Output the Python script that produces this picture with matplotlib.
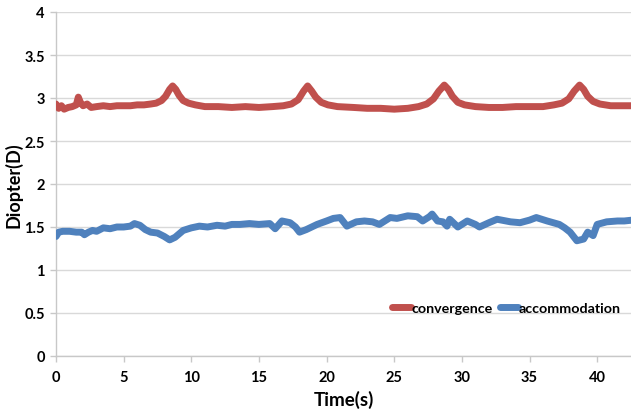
import matplotlib
matplotlib.use("Agg")
import matplotlib.pyplot as plt

# ---- data ----
conv_t = [0, 0.2, 0.4, 0.6, 0.9, 1.2, 1.5, 1.65, 1.8, 2.0, 2.3, 2.6, 3.0, 3.5, 4.0, 4.5,
          5.0, 5.5, 6.0, 6.5, 7.0, 7.4, 7.8, 8.1, 8.4, 8.62, 8.85, 9.1, 9.4, 9.8, 10.3,
          11, 12, 13, 14, 15, 16, 16.8, 17.4, 17.9, 18.3, 18.6, 18.9, 19.2, 19.6, 20.1,
          20.8, 22, 23, 24, 25, 26, 26.8, 27.4, 27.9, 28.3, 28.7, 29.0, 29.3, 29.7, 30.2,
          31, 32, 33, 34, 35, 36, 36.8, 37.4, 37.9, 38.3, 38.7, 39.0, 39.3, 39.7, 40.2,
          41, 42, 42.6]
conv_v = [2.93, 2.88, 2.91, 2.87, 2.89, 2.90, 2.92, 3.01, 2.95, 2.91, 2.93, 2.89, 2.90,
          2.91, 2.90, 2.91, 2.91, 2.91, 2.92, 2.92, 2.93, 2.94, 2.97, 3.02, 3.10, 3.14,
          3.10, 3.03, 2.97, 2.94, 2.92, 2.90, 2.90, 2.89, 2.90, 2.89, 2.90, 2.91, 2.93,
          2.98, 3.08, 3.14, 3.08, 3.01, 2.95, 2.92, 2.90, 2.89, 2.88, 2.88, 2.87, 2.88,
          2.90, 2.93, 2.99, 3.08, 3.15, 3.10, 3.02, 2.95, 2.92, 2.90, 2.89, 2.89, 2.90,
          2.90, 2.90, 2.92, 2.94, 2.99, 3.08, 3.15, 3.10, 3.02, 2.96, 2.93, 2.91, 2.91,
          2.91]

acc_t = [0, 0.2, 0.5, 1.0, 1.5, 1.9, 2.1, 2.4, 2.7, 3.0, 3.5, 4.0, 4.5, 5.0, 5.5, 5.8,
         6.2, 6.6, 7.0, 7.5, 8.0, 8.4, 8.8, 9.4, 10.0, 10.6, 11.2, 11.9, 12.5, 13.0,
         13.6, 14.3, 15.0, 15.8, 16.2, 16.7, 17.3, 17.7, 18.0, 18.5, 19.3, 20.0, 20.5,
         21.0, 21.5, 22.2, 22.8, 23.4, 23.9, 24.7, 25.2, 26.0, 26.7, 27.1, 27.6, 27.8,
         28.2, 28.6, 28.9, 29.1, 29.7, 30.4, 31.0, 31.3, 32.0, 32.6, 33.6, 34.3, 35.0,
         35.5, 36.3, 37.2, 37.6, 38.0, 38.5, 39.0, 39.3, 39.7, 40.0, 40.7, 41.5, 42.0,
         42.6]
acc_v = [1.39, 1.44, 1.45, 1.45, 1.44, 1.44, 1.41, 1.44, 1.46, 1.45, 1.49, 1.48, 1.50,
         1.50, 1.51, 1.54, 1.52, 1.47, 1.44, 1.43, 1.39, 1.35, 1.38, 1.46, 1.49, 1.51,
         1.50, 1.52, 1.51, 1.53, 1.53, 1.54, 1.53, 1.54, 1.48, 1.57, 1.55, 1.50, 1.44,
         1.47, 1.53, 1.57, 1.60, 1.61, 1.51, 1.56, 1.57, 1.56, 1.53, 1.61, 1.60, 1.63,
         1.62, 1.57, 1.62, 1.65, 1.57, 1.56, 1.51, 1.59, 1.50, 1.57, 1.53, 1.50, 1.55,
         1.59, 1.56, 1.55, 1.58, 1.61, 1.57, 1.53, 1.49, 1.44, 1.34, 1.36, 1.44, 1.40,
         1.53, 1.56, 1.57, 1.57, 1.58]

series_names = ["convergence", "accommodation"]
x_ticks = [0, 5, 10, 15, 20, 25, 30, 35, 40]
y_ticks = [0, 0.5, 1, 1.5, 2, 2.5, 3, 3.5, 4]
y_tick_labels = ["0", "0.5", "1", "1.5", "2", "2.5", "3", "3.5", "4"]

# ---- drawing ----
plt.rcParams['font.family'] = ['Lato', 'DejaVu Sans']
fig = plt.figure(figsize=(6.31, 4.10), dpi=100)
ax = fig.add_axes([56 / 631, 1 - 357 / 410, 1 - 56 / 631, (357 - 13) / 410])

red = "#C0504D"
blue = "#4F81BD"
ax.plot(conv_t, conv_v, color=red, lw=5.0, solid_capstyle="round",
        solid_joinstyle="round", label=series_names[0], zorder=3)
ax.plot(acc_t, acc_v, color=blue, lw=5.0, solid_capstyle="round",
        solid_joinstyle="round", label=series_names[1], zorder=3)

ax.set_xlim(0, 42.5)
ax.set_ylim(0, 4)
ax.set_xticks(x_ticks)
ax.set_yticks(y_ticks)
ax.set_yticklabels(y_tick_labels)
ax.yaxis.grid(True, color="#d9d9d9", lw=1.0)
ax.set_axisbelow(True)
for s in ["top", "right"]:
    ax.spines[s].set_visible(False)
for s in ["left", "bottom"]:
    ax.spines[s].set_color("#c8c8c8")
    ax.spines[s].set_linewidth(1.0)
ax.tick_params(axis="both", colors="#c8c8c8", length=4, width=1,
               labelcolor="black", labelsize=10.5)
ax.tick_params(axis="x", pad=6)
ax.tick_params(axis="y", pad=4)
for lab in ax.get_xticklabels() + ax.get_yticklabels():
    lab.set_fontweight("bold")

ax.set_xlabel("Time(s)", fontsize=13.5, fontweight="bold", labelpad=4)
ax.set_ylabel("Diopter(D)", fontsize=13, fontweight="bold", labelpad=1)

leg = ax.legend(loc="center right", bbox_to_anchor=(1.005, 0.14), ncol=2,
                frameon=False, handlelength=1.3, handletextpad=0.05,
                columnspacing=0.5, fontsize=10.3)
for t in leg.get_texts():
    t.set_fontweight("bold")
for h in leg.get_lines():
    h.set_linewidth(5)
    h.set_solid_capstyle("round")

fig.savefig("out.png", dpi=100)
